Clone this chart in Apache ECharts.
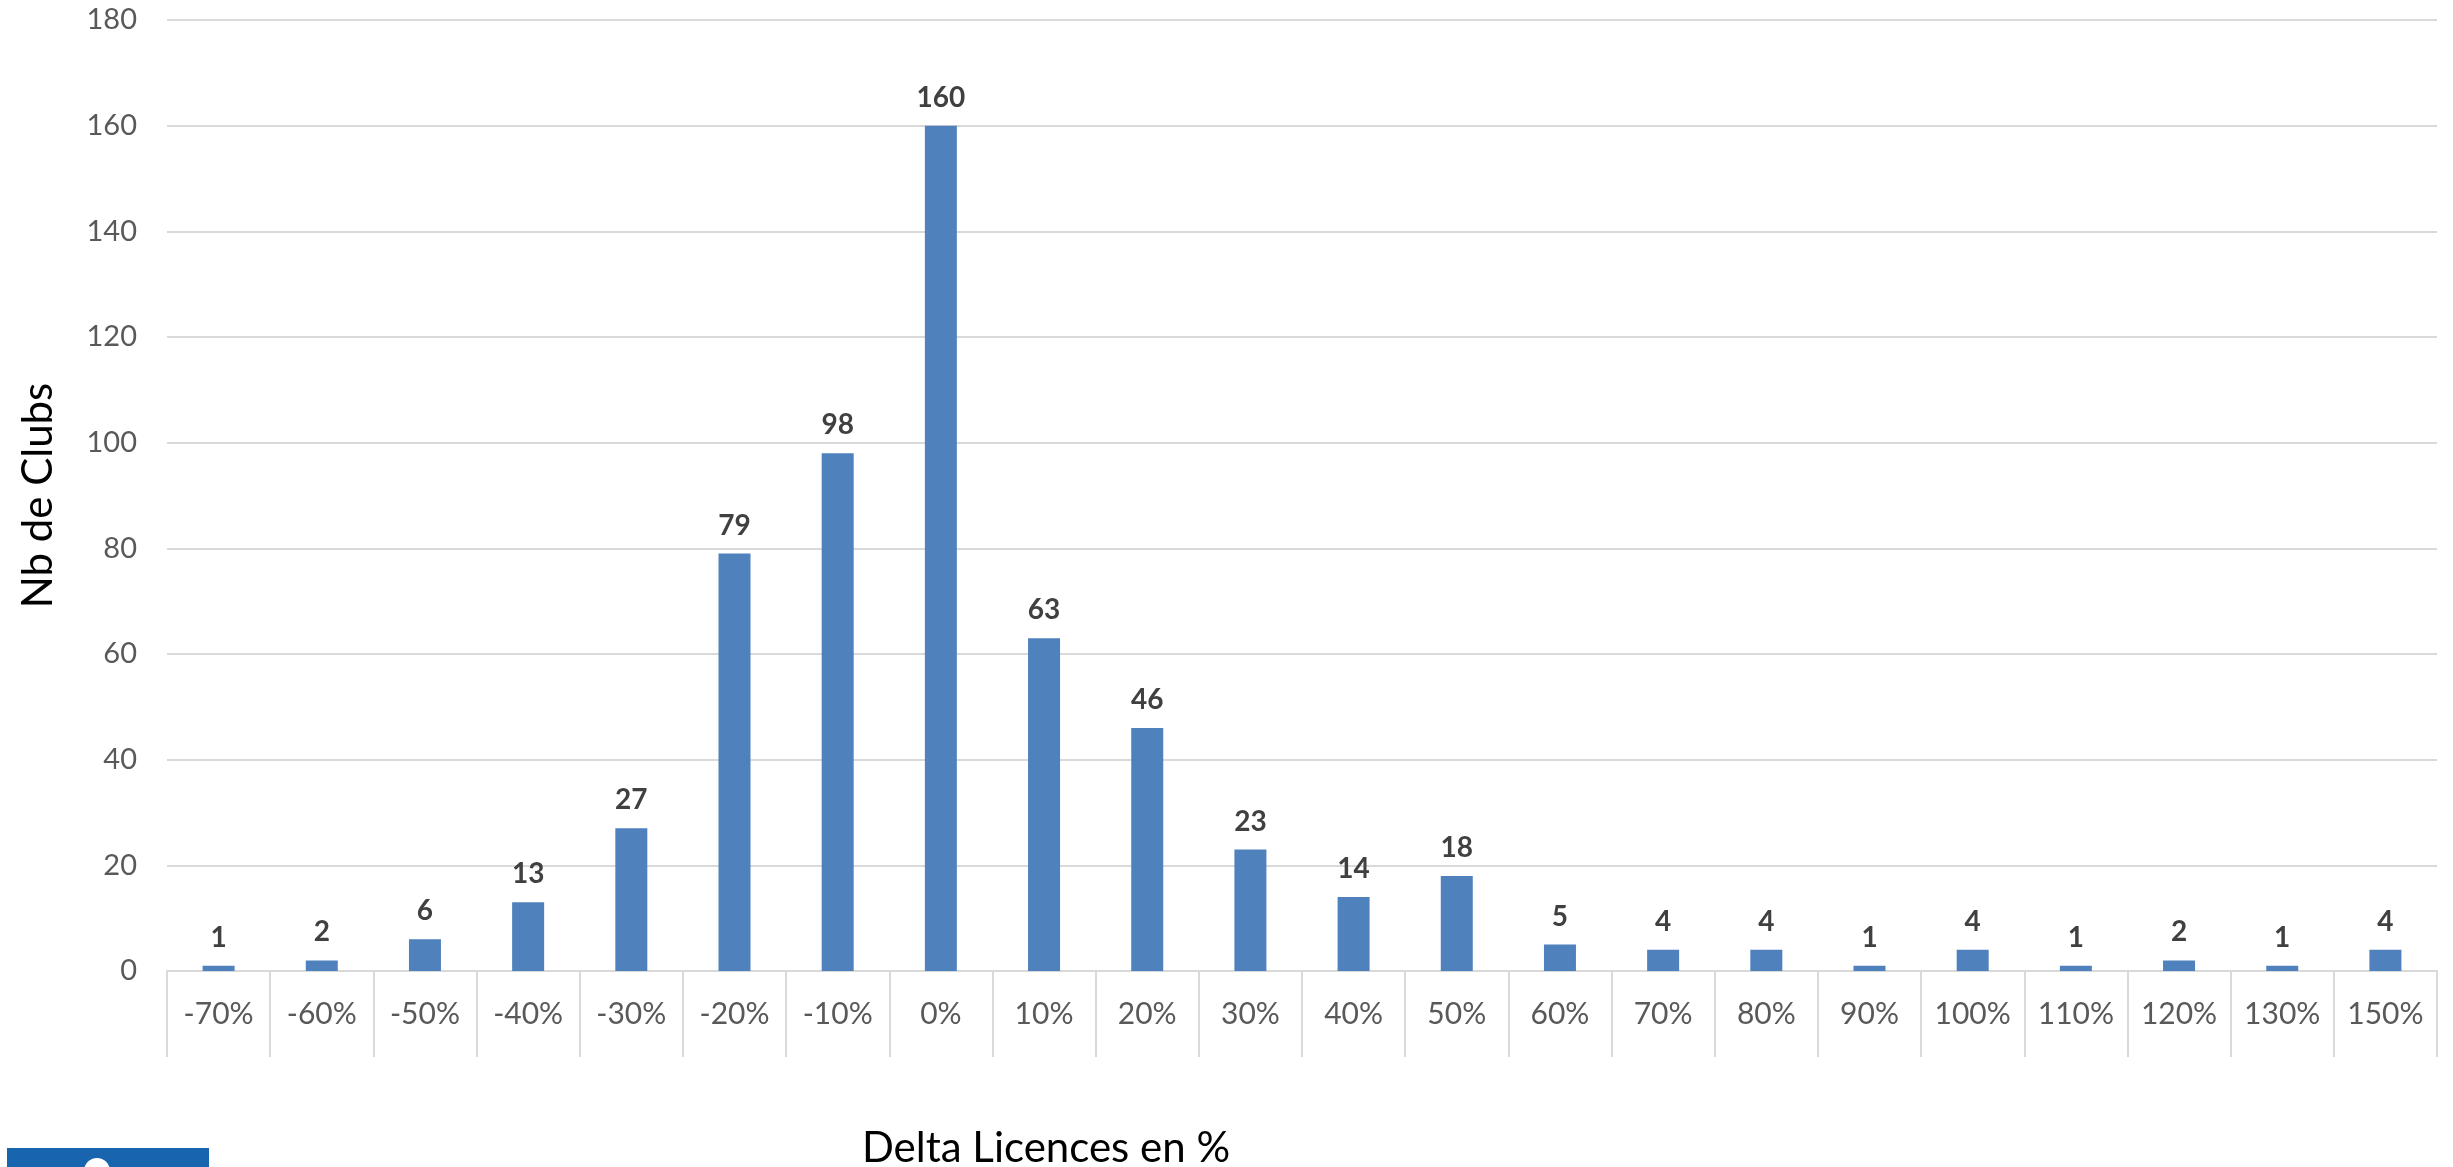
<!DOCTYPE html>
<html>
<head>
<meta charset="utf-8">
<script src="https://cdn.jsdelivr.net/npm/echarts@6/dist/echarts.min.js"></script>
<style>
html,body{margin:0;padding:0;background:#fff;overflow:hidden;width:2453px;height:1167px;}
#chart{width:2453px;height:1167px;}
</style>
</head>
<body>
<div id="chart"></div>
<script>
var categories = ['-70%','-60%','-50%','-40%','-30%','-20%','-10%','0%','10%','20%','30%','40%','50%','60%','70%','80%','90%','100%','110%','120%','130%','150%'];
var clubs = [1,2,6,13,27,79,98,160,63,46,23,14,18,5,4,4,1,4,1,2,1,4];
var yMin = 0, yMax = 180, yStep = 20;
var xTitle = 'Delta Licences en %';
var yTitle = 'Nb de Clubs';

var chart = echarts.init(document.getElementById('chart'));
chart.setOption({
  animation: false,
  backgroundColor: '#ffffff',
  textStyle: { fontFamily: 'Lato' },
  grid: { left: 167, right: 16, top: 20, bottom: 196, containLabel: false, outerBoundsMode: 'none' },
  xAxis: {
    type: 'category',
    data: categories,
    boundaryGap: true,
    name: xTitle,
    nameLocation: 'middle',
    nameGap: 156,
    nameTextStyle: { fontSize: 42, color: '#000000', fontFamily: 'Lato', padding: [0, 512, 0, 0] },
    axisLine: { show: true, lineStyle: { color: '#D9D9D9', width: 2 } },
    axisTick: { show: true, length: 86, lineStyle: { color: '#D9D9D9', width: 2 } },
    axisLabel: { fontSize: 30, color: '#595959', margin: 28, fontFamily: 'Lato' },
    splitLine: { show: false }
  },
  yAxis: {
    type: 'value',
    min: yMin, max: yMax, interval: yStep,
    name: yTitle,
    nameLocation: 'middle',
    nameRotate: 90,
    nameGap: 108,
    nameTextStyle: { fontSize: 42, color: '#000000', fontFamily: 'Lato' },
    axisLine: { show: false },
    axisTick: { show: false },
    axisLabel: { fontSize: 29, color: '#595959', margin: 30, fontFamily: 'Lato' },
    splitLine: { show: true, lineStyle: { color: '#D9D9D9', width: 2 } }
  },
  series: [{
    type: 'bar',
    data: clubs,
    barWidth: 32,
    itemStyle: { color: '#4F81BD' },
    label: {
      show: true,
      position: 'top',
      distance: 14,
      fontSize: 28,
      fontWeight: 'bold',
      color: '#404040',
      fontFamily: 'Lato'
    }
  }],
  graphic: [
    { type: 'rect', left: 7, top: 1148, shape: { width: 202, height: 19 }, style: { fill: '#1864AE' }, silent: true },
    { type: 'circle', shape: { cx: 97, cy: 1171, r: 13 }, style: { fill: '#ffffff' }, silent: true }
  ]
});
</script>
</body>
</html>
